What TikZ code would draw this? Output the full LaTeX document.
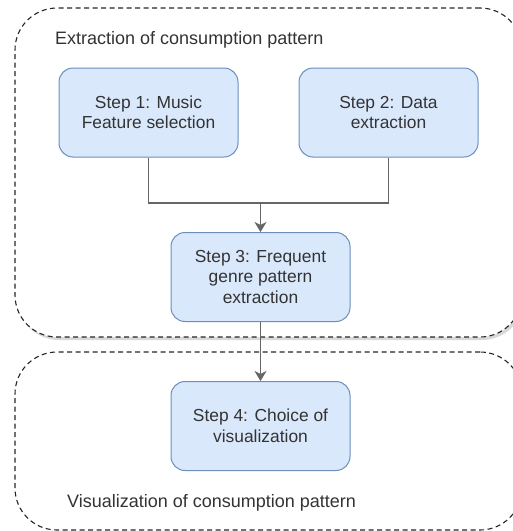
\documentclass[tikz,border=0pt]{standalone}
\usepackage{fontspec}
\setmainfont{Liberation Sans}
\usepackage{tikz}
\usetikzlibrary{positioning, arrows.meta, shadows}

\definecolor{stepfill}{HTML}{DAE8FC}
\definecolor{stepline}{HTML}{6C8EBF}
\definecolor{txtgray}{HTML}{333333}
\definecolor{edgegray}{HTML}{666666}

\begin{document}
\begin{tikzpicture}[
    x=1pt, y=-1pt,
    font=\fontsize{17.4pt}{20.5pt}\selectfont,
    text=txtgray,
    >={Stealth[length=10pt, width=12pt, inset=3pt]},
    stepbox/.style={
        draw=stepline, fill=stepfill, rounded corners=14pt, align=center,
        line width=1pt, minimum width=179pt, minimum height=89pt, inner sep=2pt,
    },
    group/.style={
        draw=black!85, dashed, dash pattern=on 5pt off 3.5pt, line width=1.1pt,
        rounded corners=42pt, inner sep=0pt, fill=white,
    },
    grouplabel/.style={anchor=west, inner sep=0pt, font=\fontsize{18pt}{21pt}\selectfont},
    line/.style={draw=edgegray, line width=1.2pt},
    arr/.style={line, ->},
]
\useasboundingbox (0,0) rectangle (513,531);

% --- Groups -------------------------------------------------
\node[group, minimum width=507pt, minimum height=329pt,
      drop shadow={opacity=0.3, shadow xshift=2pt, shadow yshift=-3pt}]
    (extr) at (268.5,172.5) {};
\node[grouplabel] (extrlbl) at (55,40) {Extraction of consumption pattern};

\node[group, minimum width=507pt, minimum height=178pt] (vis) at (268.5,441) {};
\node[grouplabel] (vislbl) at (67,503) {Visualization of consumption pattern};

% --- Steps --------------------------------------------------
\node[stepbox] (s1) at (148.5,112.5) {Step 1: Music\\Feature selection};
\node[stepbox, right=60pt of s1] (s2) {Step 2: Data\\extraction};
\node[stepbox] (s3) at (260.5,277) {Step 3: Frequent\\genre pattern\\extraction};
\node[stepbox, below=59pt of s3] (s4) {Step 4: Choice of\\visualization};

% --- Arrows -------------------------------------------------
\coordinate (merge) at (260.5,203);
\draw[line] (s1.south) |- (merge);
\draw[line] (s2.south) |- (merge);
\draw[arr] (merge) -- (s3.north);
\draw[arr] (s3.south) -- (s4.north);

\end{tikzpicture}
\end{document}
